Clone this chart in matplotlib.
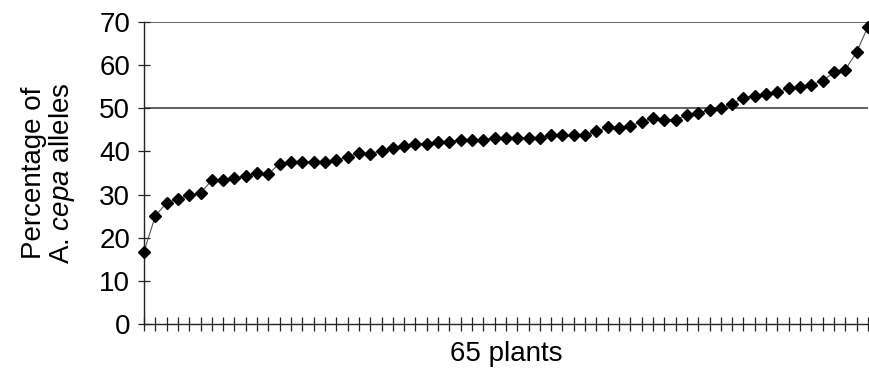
import matplotlib.pyplot as plt

plt.rcParams['font.family'] = ['Liberation Sans', 'DejaVu Sans']
plt.rcParams['mathtext.fontset'] = 'custom'
plt.rcParams['mathtext.rm'] = 'Liberation Sans'
plt.rcParams['mathtext.it'] = 'Liberation Sans:italic'

# ---------- Data ---------- #

pct_cepa = [16.8, 25.0, 28.1, 28.9, 29.9, 30.4, 33.3, 33.3, 33.8, 34.4,
            35.0, 34.8, 37.2, 37.6, 37.6, 37.5, 37.5, 38.0, 38.8, 39.6,
            39.5, 40.2, 40.7, 41.3, 41.7, 41.7, 42.3, 42.3, 42.7, 42.7,
            42.7, 43.2, 43.2, 43.2, 43.2, 43.2, 43.7, 43.7, 43.7, 43.7,
            44.7, 45.6, 45.5, 45.9, 46.9, 47.7, 47.4, 47.4, 48.4, 49.0,
            49.6, 50.0, 51.0, 52.5, 52.9, 53.3, 53.8, 54.6, 54.9, 55.4,
            56.4, 58.3, 58.9, 63.0, 68.9]
plants = list(range(len(pct_cepa)))
y_ticks = [0, 10, 20, 30, 40, 50, 60, 70]
ref_lines = [50, 70]

# ---------- Figure ---------- #

fig = plt.figure(figsize=(8.69, 3.77), dpi=100)
ax = fig.add_axes([0.1657, 0.1406, 0.833, 0.801])

for yv in ref_lines:
    ax.axhline(yv, color='#444444', lw=1.2, zorder=1)

ax.plot(plants, pct_cepa, color='#555555', lw=0.8, zorder=2, clip_on=False)
ax.plot(plants, pct_cepa, ls='none', marker='D', ms=6.5, color='black',
        zorder=3, clip_on=False)

ax.set_xlim(0, len(pct_cepa) - 1)
ax.set_ylim(0, 70)
ax.set_yticks(y_ticks)
ax.set_xticks(plants)
ax.set_xticklabels([])

for side in ['top', 'right']:
    ax.spines[side].set_visible(False)
for side in ['left', 'bottom']:
    ax.spines[side].set_color('#222222')
    ax.spines[side].set_linewidth(1.0)

ax.tick_params(axis='y', direction='inout', length=8, width=0.9,
               labelsize=20, pad=6, colors='#222222', labelcolor='black')
ax.tick_params(axis='x', direction='inout', length=10, width=0.9,
               colors='#222222')

ax.set_xlabel('65 plants', fontsize=20, labelpad=4)
ax.set_ylabel('Percentage of\nA. $\\mathit{cepa}$ alleles', fontsize=20,
              linespacing=1.0, labelpad=16)

fig.savefig('out.png', dpi=100)
